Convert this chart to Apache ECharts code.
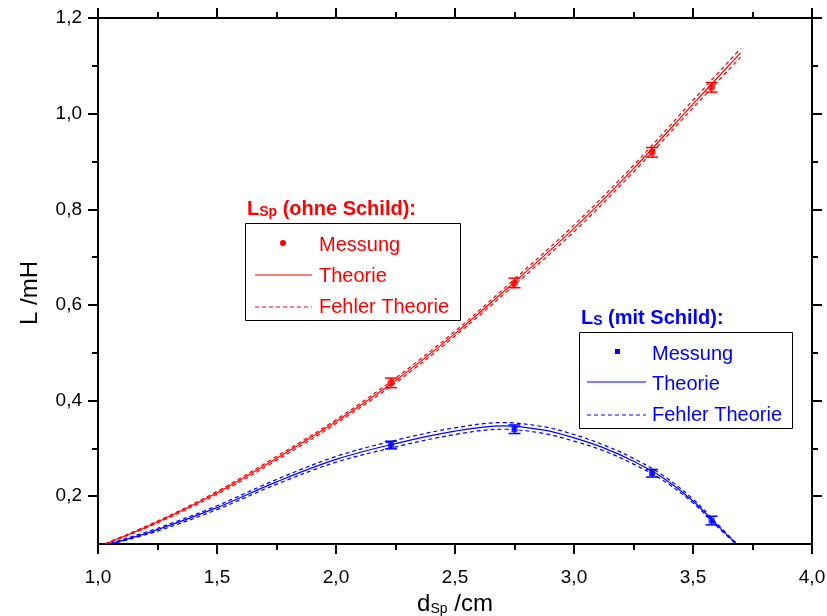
<!DOCTYPE html>
<html>
<head>
<meta charset="utf-8">
<script src="https://cdn.jsdelivr.net/npm/echarts@6/dist/echarts.min.js"></script>
<style>
  html, body { margin: 0; padding: 0; background: #fff; }
  #chart { width: 827px; height: 616px; }
</style>
</head>
<body>
<div id="chart"></div>
<script>
// Measured inductance with error, spool distance d_Sp in cm
const dMeas = [2.231, 2.750, 3.328, 3.578];
const lspMeas = [0.437, 0.646, 0.919, 1.055];
const lspErr = [0.010, 0.010, 0.010, 0.010];
const lsMeas = [0.307, 0.340, 0.248, 0.149];
const lsErr = [0.008, 0.009, 0.008, 0.009];

// Theory curve without shield (L_Sp) plus its error band
const dTheoryLsp = [1.03, 1.25, 1.50, 1.75, 2.00, 2.25, 2.50, 2.75, 3.00, 3.25, 3.50, 3.70];
const lspTheory = [0.100, 0.146, 0.207, 0.279, 0.356, 0.442, 0.540, 0.648, 0.760, 0.885, 1.020, 1.127];
const lspUpper = [0.101, 0.148, 0.210, 0.283, 0.360, 0.447, 0.545, 0.654, 0.767, 0.892, 1.028, 1.136];
const lspLower = [0.099, 0.144, 0.204, 0.275, 0.352, 0.437, 0.535, 0.642, 0.753, 0.878, 1.012, 1.118];

// Theory curve with shield (L_S) plus its error band
const dTheoryLs = [1.05, 1.25, 1.50, 1.75, 2.00, 2.25, 2.50, 2.70, 2.875, 3.00, 3.125, 3.25, 3.375, 3.50, 3.60, 3.683];
const lsTheory = [0.100, 0.130, 0.176, 0.230, 0.277, 0.310, 0.336, 0.347, 0.338, 0.322, 0.301, 0.273, 0.238, 0.190, 0.140, 0.100];
const lsUpper  = [0.101, 0.133, 0.180, 0.235, 0.283, 0.317, 0.343, 0.354, 0.345, 0.329, 0.307, 0.279, 0.243, 0.194, 0.143, 0.101];
const lsLower  = [0.099, 0.127, 0.172, 0.225, 0.271, 0.303, 0.329, 0.340, 0.331, 0.315, 0.295, 0.267, 0.233, 0.186, 0.137, 0.099];

// Axis ticks
const yMajor = [0.2, 0.4, 0.6, 0.8, 1.0, 1.2];
const yMinor = [0.3, 0.5, 0.7, 0.9, 1.1];

const RED = '#ff0000';
const BLUE = '#0000ff';
const FONT = '"Liberation Sans", Arial, sans-serif';

const zip = (xs, ys) => xs.map((x, i) => [x, ys[i]]);
const comma = v => Number(v).toFixed(1).replace('.', ',');

function errorBarSeries(xs, ys, es, color) {
  return {
    type: 'custom',
    data: xs.map((x, i) => [x, ys[i], es[i]]),
    z: 4,
    renderItem: function (params, api) {
      const x = api.value(0), y = api.value(1), e = api.value(2);
      const top = api.coord([x, y + e]);
      const bot = api.coord([x, y - e]);
      const hw = 6;
      const style = { stroke: color, lineWidth: 1.5 };
      return {
        type: 'group',
        children: [
          { type: 'line', shape: { x1: top[0], y1: top[1], x2: bot[0], y2: bot[1] }, style },
          { type: 'line', shape: { x1: top[0] - hw, y1: top[1], x2: top[0] + hw, y2: top[1] }, style },
          { type: 'line', shape: { x1: bot[0] - hw, y1: bot[1], x2: bot[0] + hw, y2: bot[1] }, style }
        ]
      };
    }
  };
}

function curve(xs, ys, color, dashed) {
  return {
    type: 'line',
    data: zip(xs, ys),
    smooth: 0.35,
    showSymbol: false,
    silent: true,
    z: 2,
    lineStyle: { color: color, width: 1.2, type: dashed ? [4, 3] : 'solid' }
  };
}

const axisLine = { show: true, lineStyle: { color: '#000', width: 2 } };
const noSplit = { show: false };

function yAxisDef(position, values, len, labels) {
  return {
    type: 'value', min: 0.1, max: 1.2, interval: 0.1, position: position,
    axisLine: labels !== null ? axisLine : { show: false },
    axisTick: { show: true, inside: false, length: len, customValues: values, lineStyle: { color: '#000', width: 2 } },
    axisLabel: labels ? {
      show: true, customValues: values, formatter: comma, margin: 16,
      color: '#000', fontSize: 19, fontFamily: FONT
    } : { show: false },
    splitLine: noSplit
  };
}

const chart = echarts.init(document.getElementById('chart'), null, { renderer: 'canvas' });

const option = {
  backgroundColor: '#fff',
  animation: false,
  grid: { left: 98, right: 15, top: 18, bottom: 72, containLabel: false, outerBoundsMode: 'none' },
  xAxis: [
    {
      type: 'value', min: 1, max: 4, interval: 0.5, position: 'bottom',
      name: '{d|d}{s|Sp}{d| /cm}', nameLocation: 'middle', nameGap: 44,
      nameTextStyle: { rich: {
        d: { fontSize: 24, fontFamily: FONT, color: '#000' },
        s: { fontSize: 14, fontFamily: FONT, color: '#000', verticalAlign: 'bottom', padding: [6, 0, 0, 0] }
      } },
      axisLine: axisLine,
      axisTick: { show: true, inside: false, length: 10, lineStyle: { color: '#000', width: 2 } },
      minorTick: { show: true, splitNumber: 2, length: 6, lineStyle: { color: '#000', width: 2 } },
      axisLabel: { formatter: comma, margin: 24, color: '#000', fontSize: 19, fontFamily: FONT },
      splitLine: noSplit, minorSplitLine: { show: false }
    },
    {
      type: 'value', min: 1, max: 4, interval: 0.5, position: 'top',
      axisLine: axisLine,
      axisTick: { show: true, inside: false, length: 10, lineStyle: { color: '#000', width: 2 } },
      minorTick: { show: true, splitNumber: 2, length: 6, lineStyle: { color: '#000', width: 2 } },
      axisLabel: { show: false },
      splitLine: noSplit, minorSplitLine: { show: false }
    }
  ],
  yAxis: [
    Object.assign(yAxisDef('left', yMajor, 10, true), {
      name: 'L /mH', nameLocation: 'middle', nameGap: 56, nameRotate: 90,
      nameTextStyle: { fontSize: 24, fontFamily: FONT, color: '#000', padding: [0, 24, 0, 0] }
    }),
    yAxisDef('left', yMinor, 6, null),
    yAxisDef('right', yMajor, 10, false),
    yAxisDef('right', yMinor, 6, null)
  ],
  series: [
    curve(dTheoryLsp, lspUpper, RED, true),
    curve(dTheoryLsp, lspLower, RED, true),
    curve(dTheoryLsp, lspTheory, RED, false),
    curve(dTheoryLs, lsUpper, BLUE, true),
    curve(dTheoryLs, lsLower, BLUE, true),
    curve(dTheoryLs, lsTheory, BLUE, false),
    errorBarSeries(dMeas, lspMeas, lspErr, RED),
    errorBarSeries(dMeas, lsMeas, lsErr, BLUE),
    { type: 'scatter', data: zip(dMeas, lspMeas), symbol: 'circle', symbolSize: 7,
      itemStyle: { color: RED }, z: 5 },
    { type: 'scatter', data: zip(dMeas, lsMeas), symbol: 'rect', symbolSize: 6,
      itemStyle: { color: BLUE }, z: 5 }
  ],
  graphic: [
    // Legend without shield
    { type: 'text', left: 247, top: 199, style: {
        text: '{b|L}{s|Sp}{b| (ohne Schild):}', fill: RED,
        rich: {
          b: { fontSize: 20, fontWeight: 'bold', fontFamily: FONT, fill: RED },
          s: { fontSize: 14, fontWeight: 'bold', fontFamily: FONT, fill: RED, verticalAlign: 'bottom', padding: [6, 0, 0, 0] }
        } } },
    { type: 'rect', shape: { x: 245.5, y: 223.5, width: 215, height: 97 },
      style: { fill: '#fff', stroke: '#000', lineWidth: 1 }, z: 10 },
    { type: 'circle', shape: { cx: 283, cy: 243, r: 3 }, style: { fill: RED }, z: 11 },
    { type: 'line', shape: { x1: 255, y1: 275, x2: 312, y2: 275 }, style: { stroke: RED, lineWidth: 1.2 }, z: 11 },
    { type: 'line', shape: { x1: 255, y1: 307, x2: 312, y2: 307 }, style: { stroke: RED, lineWidth: 1.2, lineDash: [4, 3] }, z: 11 },
    { type: 'text', x: 319, y: 245, style: { text: 'Messung', fill: RED, fontSize: 20, fontFamily: FONT, verticalAlign: 'middle' }, z: 11 },
    { type: 'text', x: 319, y: 276, style: { text: 'Theorie', fill: RED, fontSize: 20, fontFamily: FONT, verticalAlign: 'middle' }, z: 11 },
    { type: 'text', x: 319, y: 307, style: { text: 'Fehler Theorie', fill: RED, fontSize: 20, fontFamily: FONT, verticalAlign: 'middle' }, z: 11 },

    // Legend with shield
    { type: 'text', left: 581, top: 308, style: {
        text: '{b|L}{s|S}{b| (mit Schild):}', fill: BLUE,
        rich: {
          b: { fontSize: 20, fontWeight: 'bold', fontFamily: FONT, fill: BLUE },
          s: { fontSize: 14, fontWeight: 'bold', fontFamily: FONT, fill: BLUE, verticalAlign: 'bottom', padding: [6, 0, 0, 0] }
        } } },
    { type: 'rect', shape: { x: 579.5, y: 332.5, width: 213, height: 96 },
      style: { fill: '#fff', stroke: '#000', lineWidth: 1 }, z: 10 },
    { type: 'rect', shape: { x: 615, y: 349, width: 5, height: 5 }, style: { fill: BLUE }, z: 11 },
    { type: 'line', shape: { x1: 587, y1: 382, x2: 646, y2: 382 }, style: { stroke: BLUE, lineWidth: 1.2 }, z: 11 },
    { type: 'line', shape: { x1: 587, y1: 415, x2: 646, y2: 415 }, style: { stroke: BLUE, lineWidth: 1.2, lineDash: [4, 3] }, z: 11 },
    { type: 'text', x: 652, y: 354, style: { text: 'Messung', fill: BLUE, fontSize: 20, fontFamily: FONT, verticalAlign: 'middle' }, z: 11 },
    { type: 'text', x: 652, y: 384, style: { text: 'Theorie', fill: BLUE, fontSize: 20, fontFamily: FONT, verticalAlign: 'middle' }, z: 11 },
    { type: 'text', x: 652, y: 415, style: { text: 'Fehler Theorie', fill: BLUE, fontSize: 20, fontFamily: FONT, verticalAlign: 'middle' }, z: 11 }
  ]
};

chart.setOption(option);
</script>
</body>
</html>
